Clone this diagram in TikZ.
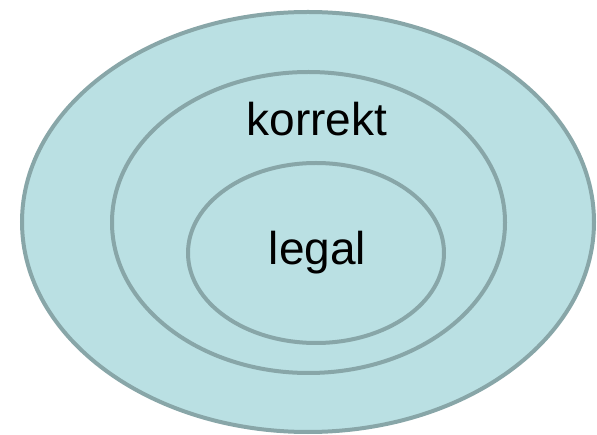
\documentclass[tikz,border=0pt]{standalone}
\usepackage{fontspec}
\setmainfont{Liberation Sans}
\usetikzlibrary{shapes.geometric}
\definecolor{ringfill}{RGB}{186,224,227}
\definecolor{ringline}{RGB}{136,166,168}
\tikzset{
  ring/.style={ellipse, draw=ringline, fill=ringfill, line width=4pt, inner sep=0pt},
  lbl/.style={anchor=base, inner sep=0pt, font=\fontsize{46}{50}\selectfont, text=black}
}
\begin{document}
\begin{tikzpicture}[x=1pt,y=-1pt]
\useasboundingbox (0,0) rectangle (597,435);
\node[ring, minimum width=572pt, minimum height=420pt] (outer) at (308,222) {};
\node[ring, minimum width=393pt, minimum height=301pt] (middle) at (308.5,222.5) {};
\node[ring, minimum width=256pt, minimum height=180pt] (inner) at (316,253) {};
\node[lbl] (korrekt) at (317,136) {korrekt};
\node[lbl] (legal) at (317.5,265) {legal};
\end{tikzpicture}
\end{document}
